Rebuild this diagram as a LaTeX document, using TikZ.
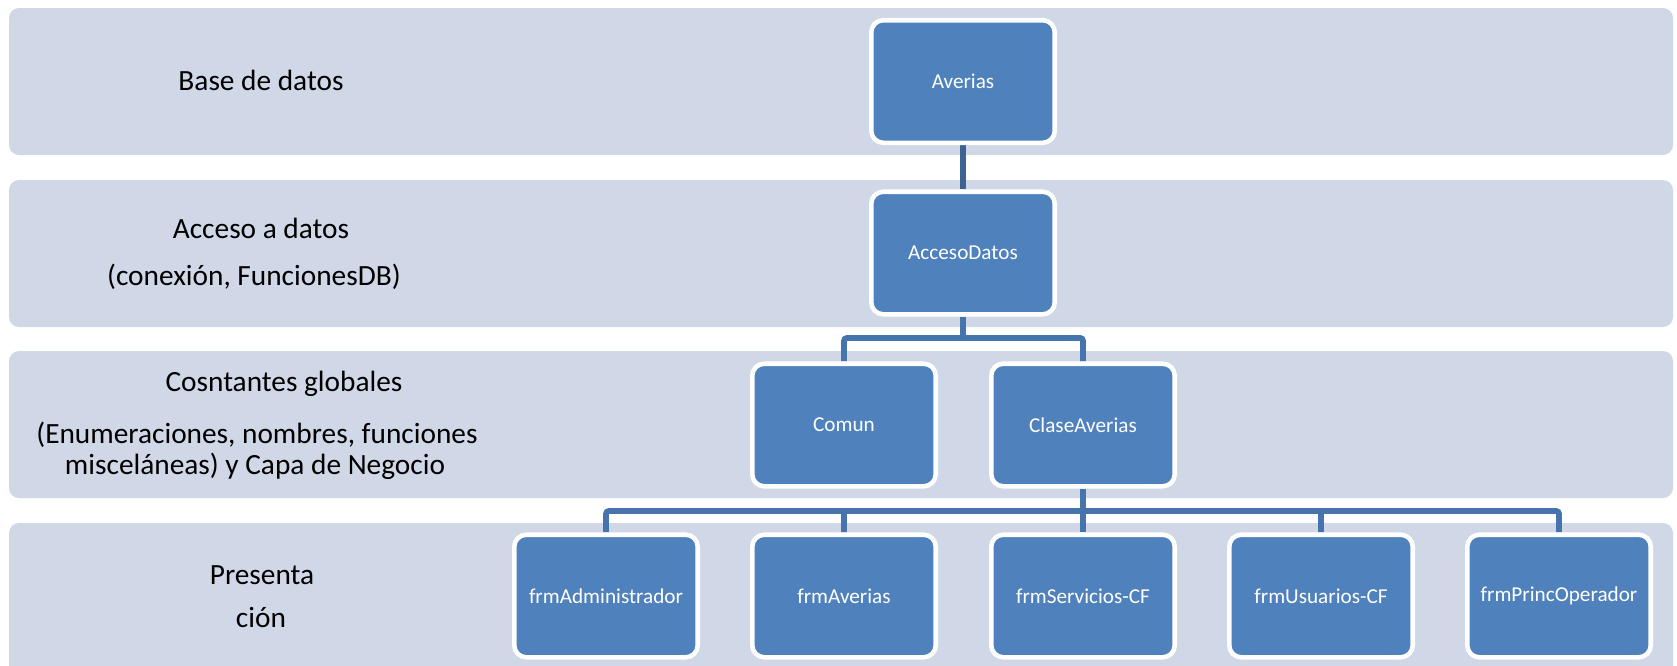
\documentclass[tikz,border=0pt]{standalone}
\usepackage{fontspec}
\setmainfont{Carlito}
\pgfdeclarelayer{bg}
\pgfdeclarelayer{conn}
\pgfsetlayers{bg,conn,main}
\definecolor{band}{HTML}{D0D8E8}
\definecolor{boxblue}{HTML}{4F81BD}
\definecolor{linetop}{HTML}{3B6493}
\definecolor{linelow}{HTML}{4674AC}
\tikzset{
  bandrect/.style={fill=band, draw=none, rounded corners=7.5pt},
  unitbox/.style={rectangle, fill=boxblue, draw=white, line width=3.4pt,
    rounded corners=9pt, minimum width=137.6pt, minimum height=91.9pt,
    inner sep=0pt, text=white, font=\fontsize{15.9}{19}\selectfont},
  layerlabel/.style={font=\fontsize{22}{26}\selectfont, text=black, inner sep=0pt,
    text height=0.9em, text depth=0.25em},
  link/.style={line width=4.2pt, rounded corners=2pt}
}
\begin{document}
\begin{tikzpicture}[x=0.75pt,y=-0.75pt]
\clip (0,0) rectangle (1677,665);
\begin{pgfonlayer}{bg}
  \fill[white] (0,0) rectangle (1677,665);
  \fill[bandrect] (9,8) rectangle (1673,155);
  \fill[bandrect] (9,180) rectangle (1673,327);
  \fill[bandrect] (9,351) rectangle (1673,498);
  \fill[bandrect] (9,523) rectangle (1673,690);
\end{pgfonlayer}

% layer labels
\node[layerlabel] (l1) at (261,86) {Base de datos};
\node[layerlabel] (l2a) at (261,234) {Acceso a datos};
\node[layerlabel] (l2b) at (254,281) {(conexión, FuncionesDB)};
\node[layerlabel] (l3a) at (284,387) {Cosntantes globales};
\node[layerlabel] (l3b) at (257,439) {(Enumeraciones, nombres, funciones};
\node[layerlabel] (l3c) at (255,470) {misceláneas) y Capa de Negocio};
\node[layerlabel] (l4a) at (262,580) {Presenta};
\node[layerlabel] (l4b) at (261,623) {ción};

% boxes
\node[unitbox] (averias) at (963,81.5) {Averias};
\node[unitbox] (acceso) at (963,253) {AccesoDatos};
\node[unitbox] (comun) at (844,425) {Comun};
\node[unitbox] (clase) at (1083,425) {ClaseAverias};
\node[unitbox] (f1) at (606,596) {frmAdministrador};
\node[unitbox] (f2) at (844,596) {frmAverias};
\node[unitbox] (f3) at (1083,596) {frmServicios-CF};
\node[unitbox] (f4) at (1321,596) {frmUsuarios-CF};
\node[unitbox] (f5) at (1559,596) {frmPrincOperador};

\coordinate (bus1) at (963,338);
\coordinate (bus2) at (1083,511);

\begin{pgfonlayer}{conn}
  \draw[link, linetop] (averias.south) -- (acceso.north);
  \draw[link, linelow] (acceso.south) -- (bus1);
  \draw[link, linelow] (bus1) -| (comun.north);
  \draw[link, linelow] (bus1) -| (clase.north);
  \draw[link, linelow] (clase.south) -- (bus2);
  \draw[link, linelow] (bus2) -| (f1.north);
  \draw[link, linelow] (bus2) -| (f2.north);
  \draw[link, linelow] (bus2) -- (f3.north);
  \draw[link, linelow] (bus2) -| (f4.north);
  \draw[link, linelow] (bus2) -| (f5.north);
\end{pgfonlayer}
\end{tikzpicture}
\end{document}
